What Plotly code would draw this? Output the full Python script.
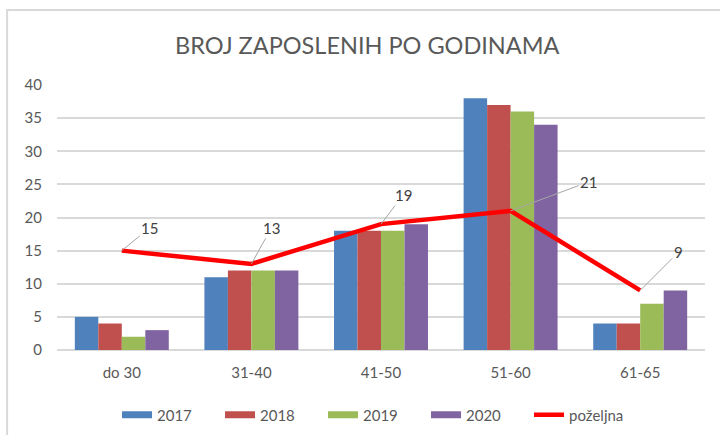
import plotly.graph_objects as go

categories = ["do 30", "31-40", "41-50", "51-60", "61-65"]
y2017 = [5, 11, 18, 38, 4]
y2018 = [4, 12, 18, 37, 4]
y2019 = [2, 12, 18, 36, 7]
y2020 = [3, 12, 19, 34, 9]
pozeljna = [15, 13, 19, 21, 9]

BAR_SERIES = [
    ("2017", y2017, "#4F81BD"),
    ("2018", y2018, "#C0504D"),
    ("2019", y2019, "#9BBB59"),
    ("2020", y2020, "#8064A2"),
]

# label offsets (pixels) for the line's data labels
LABEL_OFFSETS = [(28, -23), (20, -36), (22, -29), (78, -29), (38, -38)]

FONT = "Lato, 'Open Sans', sans-serif"
TXT = "#595959"

fig = go.Figure()

for name, vals, color in BAR_SERIES:
    fig.add_trace(go.Bar(x=categories, y=vals, name=name, legendgroup=name, showlegend=False,
                         marker=dict(color=color, line=dict(width=0))))
    # wide flat swatch for the legend, like the original
    fig.add_trace(go.Scatter(x=[None], y=[None], mode="lines", name=name, legendgroup=name,
                             line=dict(color=color, width=7)))

fig.add_trace(go.Scatter(
    x=categories, y=pozeljna, name="poželjna", mode="lines",
    line=dict(color="#FF0000", width=4.5),
))

for cat, val, (ax, ay) in zip(categories, pozeljna, LABEL_OFFSETS):
    fig.add_annotation(
        x=cat, y=val, text=str(val), showarrow=True, arrowhead=0,
        arrowwidth=1, arrowcolor="#A6A6A6", ax=ax, ay=ay, standoff=0,
        font=dict(size=15, color="#404040", family=FONT),
    )

# chart frame
fig.add_shape(type="rect", xref="paper", yref="paper", x0=-0.077, x1=1.05, y0=-0.5, y1=1.283,
              line=dict(color="#D9D9D9", width=2), fillcolor="rgba(0,0,0,0)", layer="below")

fig.update_layout(
    width=720, height=435,
    margin=dict(l=57, r=15, t=85, b=85, autoexpand=False),
    paper_bgcolor="white", plot_bgcolor="white",
    title=dict(text="BROJ ZAPOSLENIH PO GODINAMA", x=0.51, xanchor="center", y=0.895, yanchor="middle",
               font=dict(size=23.5, color=TXT, family=FONT)),
    barmode="group", bargap=0.275, bargroupgap=0,
    font=dict(family=FONT, color=TXT, size=15),
    xaxis=dict(showgrid=False, showline=False, ticks="", ticklabelstandoff=12, automargin=False,
               tickfont=dict(size=15, color=TXT)),
    yaxis=dict(range=[0, 40], dtick=5, showgrid=True, gridcolor="#D9D9D9", gridwidth=2,
               zeroline=True, zerolinecolor="#D9D9D9", zerolinewidth=2, automargin=False,
               showline=False, ticks="", ticklabelstandoff=14, tickfont=dict(size=15, color=TXT)),
    legend=dict(orientation="h", x=0.49, xanchor="center", y=-0.245, yanchor="middle",
                font=dict(size=15, color=TXT, family=FONT), traceorder="normal",
                entrywidth=58, itemwidth=30),
    showlegend=True,
)

fig.write_html("out.html", config={"displayModeBar": False},
               post_script="document.body.style.margin='0';")
